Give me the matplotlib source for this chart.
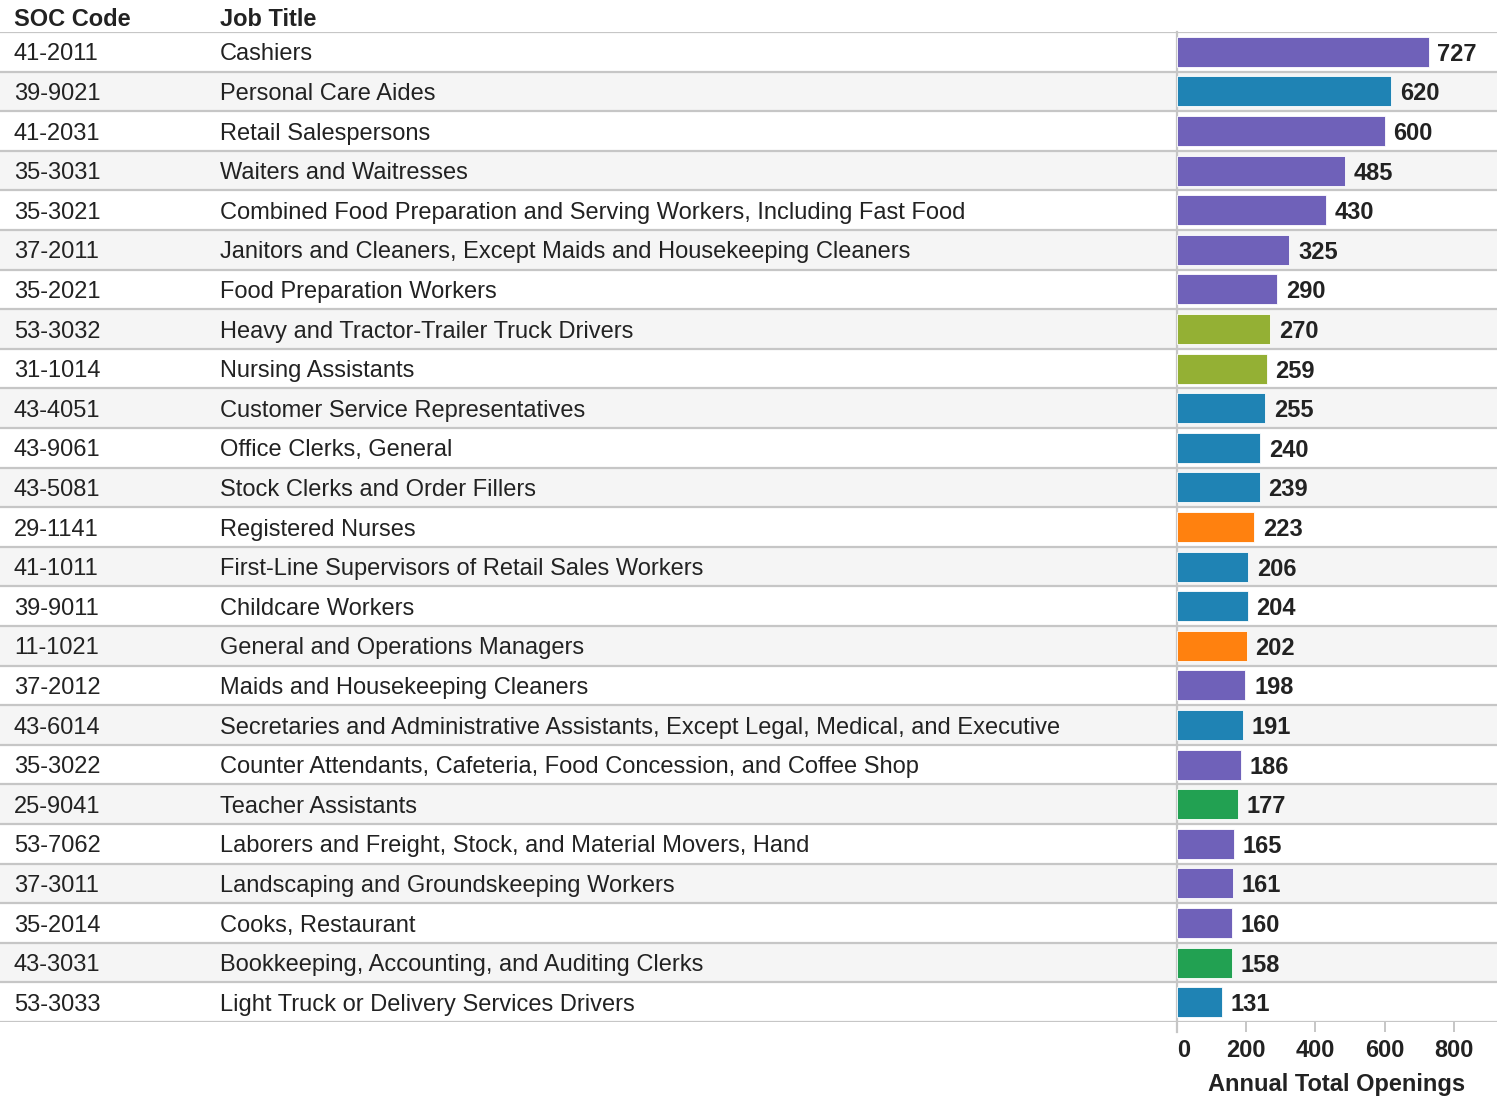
"""Top occupations by annual total openings: table with inline bar column."""

import matplotlib
matplotlib.use("Agg")
import matplotlib.pyplot as plt
import numpy as np

# --- Data ---
SOC_CODES = [
    "41-2011", "39-9021", "41-2031", "35-3031", "35-3021", "37-2011", "35-2021",
    "53-3032", "31-1014", "43-4051", "43-9061", "43-5081", "29-1141", "41-1011",
    "39-9011", "11-1021", "37-2012", "43-6014", "35-3022", "25-9041", "53-7062",
    "37-3011", "35-2014", "43-3031", "53-3033",
]
JOB_TITLES = [
    "Cashiers",
    "Personal Care Aides",
    "Retail Salespersons",
    "Waiters and Waitresses",
    "Combined Food Preparation and Serving Workers, Including Fast Food",
    "Janitors and Cleaners, Except Maids and Housekeeping Cleaners",
    "Food Preparation Workers",
    "Heavy and Tractor-Trailer Truck Drivers",
    "Nursing Assistants",
    "Customer Service Representatives",
    "Office Clerks, General",
    "Stock Clerks and Order Fillers",
    "Registered Nurses",
    "First-Line Supervisors of Retail Sales Workers",
    "Childcare Workers",
    "General and Operations Managers",
    "Maids and Housekeeping Cleaners",
    "Secretaries and Administrative Assistants, Except Legal, Medical, and Executive",
    "Counter Attendants, Cafeteria, Food Concession, and Coffee Shop",
    "Teacher Assistants",
    "Laborers and Freight, Stock, and Material Movers, Hand",
    "Landscaping and Groundskeeping Workers",
    "Cooks, Restaurant",
    "Bookkeeping, Accounting, and Auditing Clerks",
    "Light Truck or Delivery Services Drivers",
]
OPENINGS = [727, 620, 600, 485, 430, 325, 290, 270, 259, 255, 240, 239, 223,
            206, 204, 202, 198, 191, 186, 177, 165, 161, 160, 158, 131]
GROUPS = ["p", "b", "p", "p", "p", "p", "p", "o", "o", "b", "b", "b", "r",
          "b", "b", "r", "p", "b", "p", "g", "p", "p", "p", "g", "b"]
XTICKS = [0, 200, 400, 600, 800]

GROUP_COLORS = {"p": "#6f61b9", "b": "#1f83b4", "o": "#94b034", "r": "#ff810f", "g": "#22a152"}
TEXT = "#222222"
LINE = "#c6c6c6"

plt.rcParams.update({
    "font.family": ["Liberation Sans", "DejaVu Sans"],
    "font.size": 17,
})

W, H = 1497, 1096
fig = plt.figure(figsize=(W / 100, H / 100), dpi=100)

# table area in pixels
top_px, bot_px = 32, 1022
bar_left_px = 1177
y0 = 1 - bot_px / H
h = (bot_px - top_px) / H
n = len(SOC_CODES)

ax_tab = fig.add_axes([0, y0, 1, h])
ax_tab.set_xlim(0, 1)
ax_tab.set_ylim(n - 0.5, -0.5)
ax_tab.axis("off")

for i in range(n):
    if i % 2 == 1:
        ax_tab.axhspan(i - 0.5, i + 0.5, color="#f5f5f5", lw=0, zorder=0)
for b in np.arange(-0.5, n + 0.5, 1):
    ax_tab.axhline(b, color=LINE, lw=1.6, zorder=1)

for i, (code, title) in enumerate(zip(SOC_CODES, JOB_TITLES)):
    ax_tab.text(14 / W, i, code, va="center_baseline", ha="left", color=TEXT)
    ax_tab.text(220 / W, i, title, va="center_baseline", ha="left", color=TEXT)

fig.text(14 / W, 1 - 17 / H, "SOC Code", va="center_baseline", ha="left", fontweight="bold", color=TEXT)
fig.text(220 / W, 1 - 17 / H, "Job Title", va="center_baseline", ha="left", fontweight="bold", color=TEXT)

# bar column
ax = fig.add_axes([bar_left_px / W, y0, (W - bar_left_px) / W, h])
ax.patch.set_alpha(0)
y = np.arange(n)
ax.barh(y, OPENINGS, height=0.76, color=[GROUP_COLORS[g] for g in GROUPS],
        edgecolor="white", linewidth=0.6, zorder=3)
for yi, v in zip(y, OPENINGS):
    ax.text(v + 25, yi, f"{v}", va="center_baseline", ha="left", fontweight="bold", color=TEXT)

ax.set_xlim(0, 925)
ax.set_ylim(n - 0.5, -0.5)
ax.set_yticks([])
ax.set_xticks(XTICKS)
ax.set_xticklabels([str(t) for t in XTICKS], fontweight="bold", color=TEXT)
ax.get_xticklabels()[0].set_ha("left")
ax.tick_params(axis="x", length=7, width=1.4, color=LINE, pad=5)
for s in ["top", "right", "bottom"]:
    ax.spines[s].set_visible(False)
ax.spines["left"].set_color(LINE)
ax.spines["left"].set_linewidth(1.6)
ax.spines["left"].set_bounds(n - 0.5 + 0.25, -0.5)
ax.set_xlabel("Annual Total Openings", fontweight="bold", color=TEXT, labelpad=8)

fig.savefig("out.png", dpi=100)
